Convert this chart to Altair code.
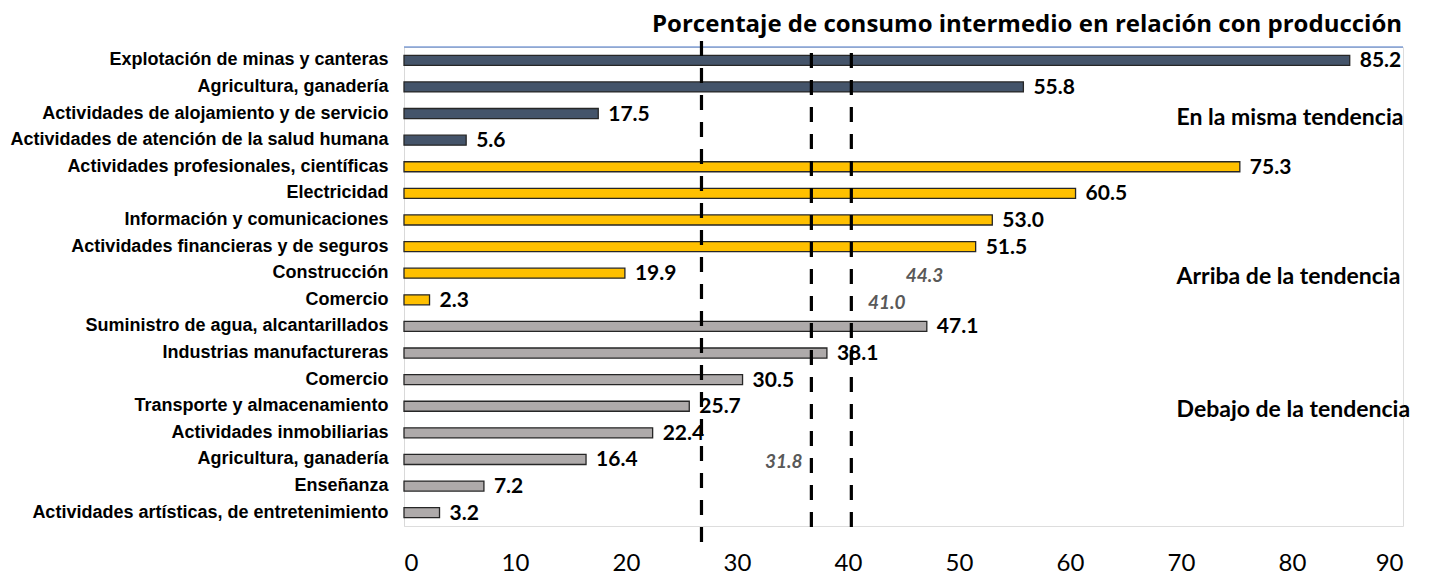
import altair as alt
import pandas as pd

# ---- data -------------------------------------------------------------
categories = [
    "Explotación de minas y canteras\u00a0\u00a0\u00a0",
    "Agricultura, ganadería",
    "Actividades de alojamiento y de servicio",
    "Actividades de atención de la salud humana",
    "Actividades profesionales, científicas\u00a0",
    "Electricidad",
    "Información y comunicaciones\u00a0\u00a0\u00a0",
    "Actividades financieras y de seguros\u00a0\u00a0\u00a0",
    "Construcción\u00a0\u00a0\u00a0",
    "Comercio",
    "Suministro de agua, alcantarillados\u00a0",
    "Industrias manufactureras\u00a0\u00a0\u00a0",
    "Comercio",
    "Transporte y almacenamiento\u00a0\u00a0\u00a0",
    "Actividades inmobiliarias\u00a0\u00a0\u00a0",
    "Agricultura, ganadería",
    "Enseñanza\u00a0\u00a0\u00a0",
    "Actividades artísticas, de entretenimiento",
]
values = [85.2, 55.8, 17.5, 5.6, 75.3, 60.5, 53.0, 51.5, 19.9, 2.3,
          47.1, 38.1, 30.5, 25.7, 22.4, 16.4, 7.2, 3.2]
groups = (["En la misma tendencia"] * 4
          + ["Arriba de la tendencia"] * 6
          + ["Debajo de la tendencia"] * 8)
group_names = ["En la misma tendencia", "Arriba de la tendencia", "Debajo de la tendencia"]
group_colors = ["#44546A", "#FFC000", "#AEAAAA"]

ref_lines = [26.8, 36.7, 40.3]
ref_labels = ["31.8", "41.0", "44.3"]
x_ticks = [0, 10, 20, 30, 40, 50, 60, 70, 80, 90]
title_text = "Porcentaje de consumo intermedio en relación con producción"

# ---- tables -----------------------------------------------------------
keys = [f"{i:02d}|{c}" for i, c in enumerate(categories)]
df = pd.DataFrame({"key": keys, "value": values, "group": groups})

# annotation layout (anchor in data units, row)
ann = pd.DataFrame({
    "text": ref_labels,
    "x": [35.9, 41.8, 45.2],
    "key": [keys[15], keys[9], keys[8]],
    "align": ["right", "left", "left"],
})
sec = pd.DataFrame({
    "text": group_names,
    "x": [69.6, 69.6, 69.6],
    "key": [keys[2], keys[8], keys[13]],
})

W, H = 999, 479
xscale = alt.Scale(domain=[0, 90], nice=False, zero=True)
yscale = alt.Scale(paddingInner=0.624, paddingOuter=0.312)
Y = alt.Y("key:N", sort=keys, scale=yscale, title=None,
          axis=alt.Axis(labelExpr="split(datum.value, '|')[1]",
                        labelFont="Liberation Sans", labelFontWeight="bold",
                        labelFontSize=18, labelColor="#000000", labelPadding=16,
                        labelLimit=0, ticks=False, grid=False,
                        domainColor="#D9D9D9", domainWidth=1))

bars = alt.Chart(df).mark_bar(stroke="#262626", strokeWidth=1.3).encode(
    x=alt.X("value:Q", scale=xscale, title=None,
            axis=alt.Axis(values=x_ticks, labelFont="Lato", labelFontSize=24,
                          labelColor="#000000", ticks=False, domain=False,
                          grid=False, labelPadding=25)),
    y=Y,
    color=alt.Color("group:N", scale=alt.Scale(domain=group_names, range=group_colors),
                    legend=None),
)

value_text = alt.Chart(df).mark_text(
    align="left", baseline="middle", dx=10, dy=1, font="Lato",
    fontWeight="bold", fontSize=21, color="#000000"
).encode(
    x=alt.X("value:Q", scale=xscale),
    y=alt.Y("key:N", sort=keys, scale=yscale),
    text=alt.Text("value:Q", format=".1f"),
)

ref_df = pd.DataFrame({"x": ref_lines})
rule_long = alt.Chart(ref_df.iloc[[0]]).mark_rule(
    color="#000000", strokeWidth=3.2, strokeDash=[15, 12]
).encode(x=alt.X("x:Q", scale=xscale), y=alt.value(-6), y2=alt.value(497))
rule_short = alt.Chart(ref_df.iloc[1:]).mark_rule(
    color="#000000", strokeWidth=3.2, strokeDash=[15, 12]
).encode(x=alt.X("x:Q", scale=xscale), y=alt.value(6), y2=alt.value(486))

ann_right = alt.Chart(ann[ann["align"] == "right"]).mark_text(
    align="right", baseline="middle", dy=3, font="Lato", fontStyle="italic",
    fontWeight="bold", fontSize=19, color="#595959"
).encode(x=alt.X("x:Q", scale=xscale), y=alt.Y("key:N", sort=keys, scale=yscale),
         text="text:N")
ann_left = alt.Chart(ann[ann["align"] == "left"]).mark_text(
    align="left", baseline="middle", dy=3, font="Lato", fontStyle="italic",
    fontWeight="bold", fontSize=19, color="#595959"
).encode(x=alt.X("x:Q", scale=xscale), y=alt.Y("key:N", sort=keys, scale=yscale),
         text="text:N")

sec_text = alt.Chart(sec).mark_text(
    align="left", baseline="middle", dy=4, font="Lato", fontWeight="bold",
    fontSize=23, color="#000000"
).encode(x=alt.X("x:Q", scale=xscale), y=alt.Y("key:N", sort=keys, scale=yscale),
         text="text:N")

top_line = alt.Chart(df.iloc[[0]]).mark_rule(color="#4472C4", strokeWidth=1).encode(
    x=alt.value(0), x2=alt.value(W), y=alt.value(0))

chart = alt.layer(
    top_line, bars, rule_long, rule_short, value_text, ann_right, ann_left, sec_text
).properties(
    width=W, height=H,
    title=alt.TitleParams(title_text, anchor="end", font="Open Sans", fontSize=24,
                          fontWeight="bold", color="#000000", offset=2, dx=-8),
    padding={"left": 404, "top": 47, "right": 28, "bottom": 49},
    autosize=alt.AutoSizeParams(type="none"),
).resolve_scale(color="shared").configure_view(stroke=None).configure(background="white")

chart.save("out.html", embed_options={"renderer": "svg", "actions": False})
